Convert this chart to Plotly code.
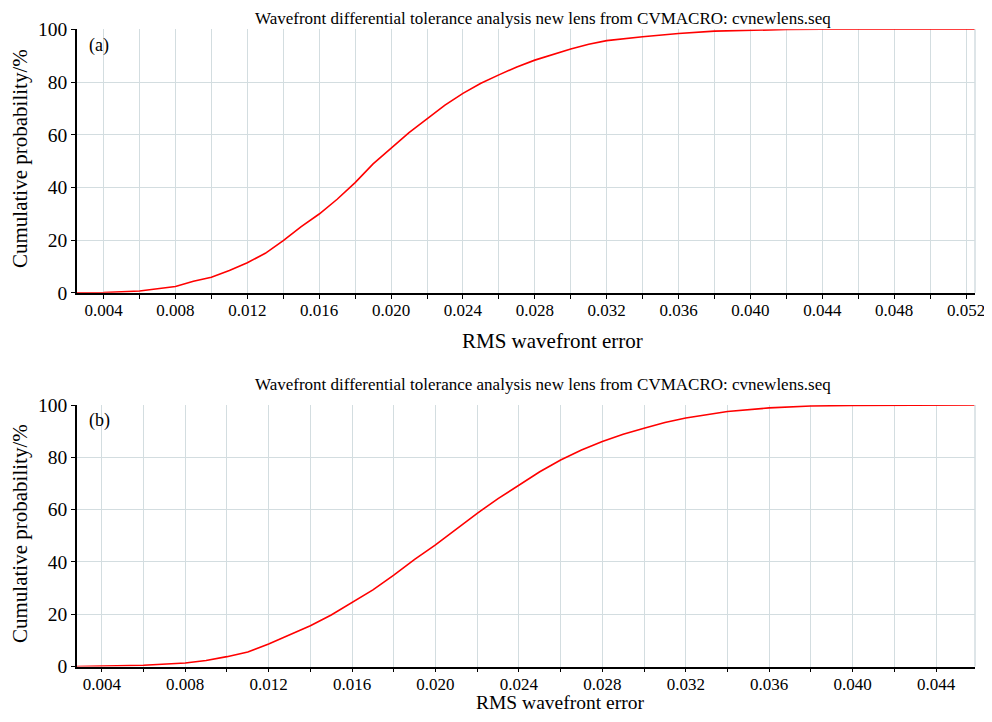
import plotly.graph_objects as go

# Panel (a) data
rms_a = [0.0025, 0.004, 0.006, 0.008, 0.009, 0.010, 0.011, 0.012, 0.013, 0.014,
         0.015, 0.0155, 0.016, 0.017, 0.018, 0.019, 0.020, 0.021, 0.022, 0.023,
         0.024, 0.025, 0.026, 0.027, 0.028, 0.029, 0.030, 0.031, 0.032, 0.034,
         0.036, 0.038, 0.040, 0.042, 0.044, 0.048, 0.0525]
cum_a = [0, 0.1, 0.7, 2.4, 4.4, 5.9, 8.5, 11.4, 15.0, 19.8,
         25.1, 27.6, 29.9, 35.5, 41.8, 48.9, 54.8, 60.8, 66.0, 71.2,
         75.7, 79.5, 82.7, 85.7, 88.3, 90.5, 92.5, 94.3, 95.7, 97.2,
         98.4, 99.3, 99.7, 99.9, 100, 100, 100]

# Panel (b) data
rms_b = [0.0028, 0.004, 0.006, 0.008, 0.009, 0.010, 0.011, 0.012, 0.013, 0.014,
         0.015, 0.016, 0.017, 0.018, 0.019, 0.020, 0.021, 0.022, 0.023, 0.024,
         0.025, 0.026, 0.027, 0.028, 0.029, 0.030, 0.031, 0.032, 0.033, 0.034,
         0.036, 0.038, 0.040, 0.042, 0.044, 0.0459]
cum_b = [0, 0.1, 0.5, 1.4, 2.3, 3.8, 5.6, 8.6, 12.0, 15.6,
         19.7, 24.4, 29.3, 35.0, 41.0, 46.5, 52.5, 58.6, 64.2, 69.4,
         74.5, 79.0, 82.8, 86.0, 88.8, 91.1, 93.3, 95.0, 96.2, 97.5,
         98.9, 99.6, 99.8, 99.95, 100, 100]

title_text = "Wavefront differential tolerance analysis new lens from CVMACRO: cvnewlens.seq"
x_title = "RMS wavefront error"
y_title = "Cumulative probability/%"
panel_labels = ["(a)", "(b)"]

FONT = "Liberation Serif, Times New Roman, serif"
GRID = "#d3dde0"

fig = go.Figure()
fig.add_trace(go.Scatter(x=rms_a, y=cum_a, mode="lines", line=dict(color="#ff0000", width=1.6),
                         xaxis="x", yaxis="y", showlegend=False, hoverinfo="skip"))
fig.add_trace(go.Scatter(x=rms_b, y=cum_b, mode="lines", line=dict(color="#ff0000", width=1.6),
                         xaxis="x2", yaxis="y2", showlegend=False, hoverinfo="skip"))

# page body has an 8px default margin: figure coords = page coords - 8
OFF = 8
W, H = 992 - 2 * OFF, 722 - 2 * OFF

def px_x(p):
    return (p - OFF) / W

def px_y(p):
    return 1 - (p - OFF) / H

xdom = [px_x(77), px_x(975)]
ya_dom = [px_y(292.8), px_y(29.3)]
yb_dom = [px_y(666.6), px_y(405)]

def xaxis_cfg(rng, anchor):
    return dict(domain=xdom, range=rng, anchor=anchor, tickmode="linear", tick0=0.004, dtick=0.004,
                tickformat=".3f", showline=True, linecolor="black", linewidth=1.5,
                ticks="outside", ticklen=4, tickcolor="black", tickwidth=1,
                showgrid=True, gridcolor=GRID, gridwidth=1, zeroline=False,
                ticklabeloverflow="allow", automargin=False, ticklabelstandoff=-3,
                minor=dict(tick0=0.004, dtick=0.002, ticks="outside", ticklen=4, tickcolor="black",
                           showgrid=True, gridcolor=GRID, gridwidth=1),
                tickfont=dict(family=FONT, size=17, color="black"), fixedrange=True)

def yaxis_cfg(dom, anchor):
    return dict(domain=dom, range=[0, 100], anchor=anchor, tickmode="linear", tick0=0, dtick=20,
                showline=True, linecolor="black", linewidth=1.5, ticks="outside", ticklen=4,
                tickcolor="black", showgrid=True, gridcolor=GRID, gridwidth=1, zeroline=False,
                ticklabeloverflow="allow", automargin=False,
                tickfont=dict(family=FONT, size=19.5, color="black"), fixedrange=True)

fig.update_layout(
    width=W, height=H, margin=dict(l=0, r=0, t=0, b=0, autoexpand=False),
    paper_bgcolor="white", plot_bgcolor="white",
    xaxis=xaxis_cfg([0.00252, 0.0525], "y"),
    yaxis=yaxis_cfg(ya_dom, "x"),
    xaxis2=xaxis_cfg([0.00281, 0.04587], "y2"),
    yaxis2=yaxis_cfg(yb_dom, "x2"),
)

# right border lines
for xr, yr in (("x domain", "y domain"), ("x2 domain", "y2 domain")):
    fig.add_shape(type="line", xref=xr, yref=yr, x0=1, x1=1, y0=0, y1=1,
                  line=dict(color=GRID, width=1.5))

def ann(text, x, y, size, angle=0, xanchor="center", yanchor="middle"):
    fig.add_annotation(text=text, x=px_x(x), y=px_y(y), xref="paper", yref="paper", showarrow=False,
                       xanchor=xanchor, yanchor=yanchor, textangle=angle, borderpad=0,
                       font=dict(family=FONT, size=size, color="black"))

ann(title_text, 543, 8, 17, yanchor="top")
ann(title_text, 543, 384, 17)
ann(x_title, 552, 341, 21)
ann(x_title, 560, 714, 19.5, yanchor="bottom")
ann(y_title, 20, 159, 21, angle=-90)
ann(y_title, 20, 534, 21, angle=-90)
ann(panel_labels[0], 88, 46, 18, xanchor="left")
ann(panel_labels[1], 88, 420, 18, xanchor="left")

fig.write_html("out.html")
